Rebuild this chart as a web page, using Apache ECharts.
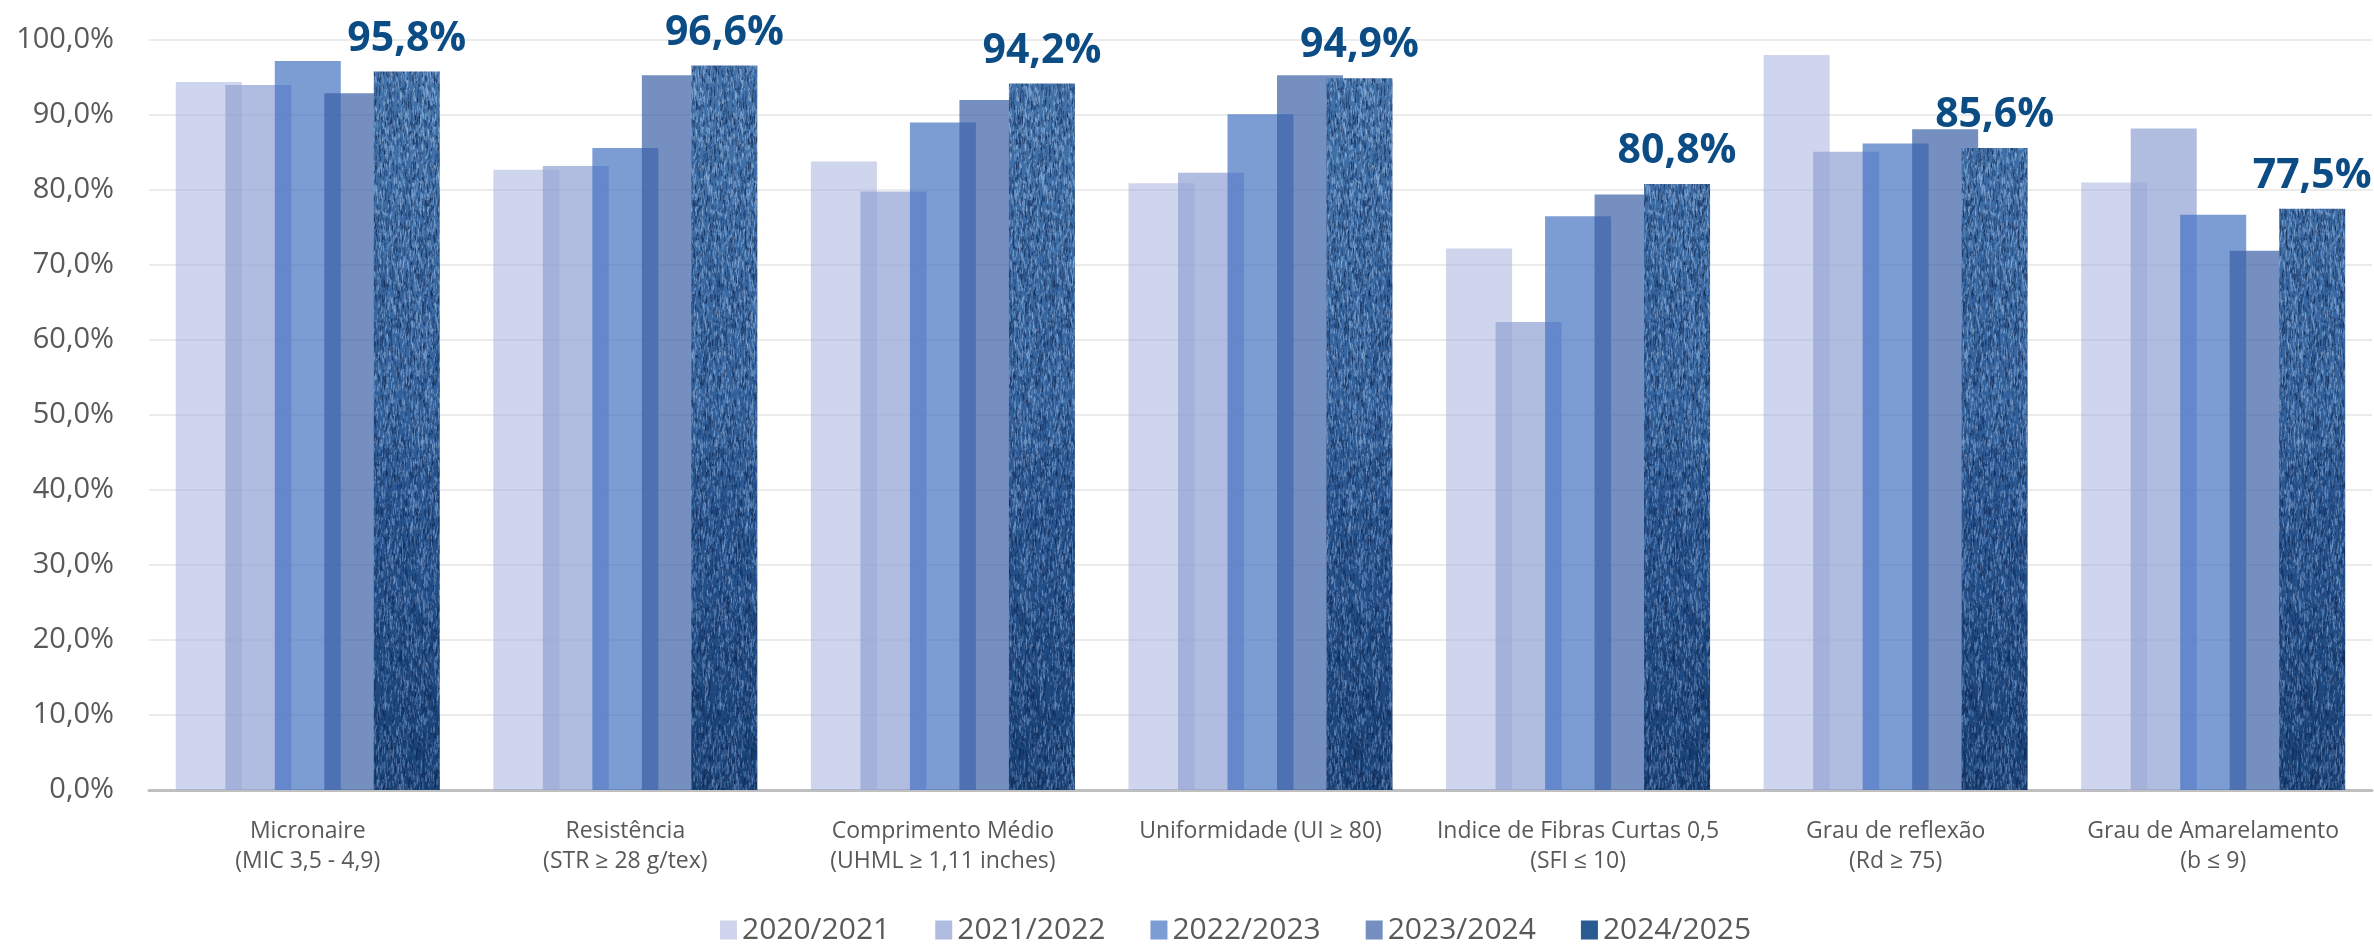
<!DOCTYPE html>
<html>
<head>
<meta charset="utf-8">
<script src="https://cdn.jsdelivr.net/npm/echarts@6/dist/echarts.min.js"></script>
<style>
html,body{margin:0;padding:0;background:#fff;}
#chart{width:2374px;height:945px;}
</style>
</head>
<body>
<div id="chart"></div>
<script>
const categories = [
  'Micronaire\n(MIC 3,5 - 4,9)',
  'Resistência\n(STR ≥ 28 g/tex)',
  'Comprimento Médio\n(UHML ≥ 1,11 inches)',
  'Uniformidade (UI ≥ 80)',
  'Indice de Fibras Curtas 0,5\n(SFI ≤ 10)',
  'Grau de reflexão\n(Rd ≥ 75)',
  'Grau de Amarelamento\n(b ≤ 9)'
];
const seasons = ['2020/2021', '2021/2022', '2022/2023', '2023/2024', '2024/2025'];
const s2020 = [94.4, 82.7, 83.8, 80.9, 72.2, 98.0, 81.0];
const s2021 = [94.0, 83.2, 79.8, 82.3, 62.4, 85.1, 88.2];
const s2022 = [97.2, 85.6, 89.0, 90.1, 76.5, 86.2, 76.7];
const s2023 = [92.9, 95.3, 92.0, 95.3, 79.4, 88.1, 71.9];
const s2024 = [95.8, 96.6, 94.2, 94.9, 80.8, 85.6, 77.5];
const yTicks = [0, 10, 20, 30, 40, 50, 60, 70, 80, 90, 100];

// denim-like texture (decorative only)
function makeDenim() {
  const c = document.createElement('canvas');
  c.width = 67; c.height = 945;
  const g = c.getContext('2d');
  const grad = g.createLinearGradient(0, 0, 0, 945);
  grad.addColorStop(0, '#4676ad');
  grad.addColorStop(0.35, '#3766a0');
  grad.addColorStop(0.6, '#24508a');
  grad.addColorStop(0.8, '#1b4478');
  grad.addColorStop(1, '#163b6b');
  g.fillStyle = grad; g.fillRect(0, 0, 67, 945);
  let seed = 12345;
  const rnd = () => { seed = (seed * 1103515245 + 12345) & 0x7fffffff; return seed / 0x7fffffff; };
  for (let i = 0; i < 9000; i++) {
    const x = rnd() * 67, y = rnd() * 945, len = 2 + rnd() * 6;
    const t = rnd();
    const depth = y / 945;
    if (t < 0.48) g.strokeStyle = 'rgba(' + Math.round(160 - 60 * depth) + ',' + Math.round(195 - 60 * depth) + ',' + Math.round(230 - 40 * depth) + ',0.55)';
    else g.strokeStyle = 'rgba(10,32,72,0.45)';
    g.lineWidth = 1;
    g.beginPath(); g.moveTo(x, y); g.lineTo(x + (rnd() - 0.5) * 1.5, y + len); g.stroke();
  }
  return c;
}
const denim = makeDenim();

const colors = [
  'rgba(160,172,218,0.5)',
  'rgba(145,163,212,0.72)',
  'rgba(69,114,194,0.7)',
  'rgba(58,96,165,0.7)'
];
const seriesData = [s2020, s2021, s2022, s2023, s2024];

const fmt = v => v.toFixed(1).replace('.', ',') + '%';

const series = seriesData.map((d, i) => {
  const s = {
    name: seasons[i],
    type: 'bar',
    data: d,
    barWidth: 66,
    barGap: '-25%',
    itemStyle: { color: i < 4 ? colors[i] : { image: denim, repeat: 'repeat' } }
  };
  if (i === 4) {
    s.label = {
      show: true, position: 'top', distance: 12,
      formatter: p => fmt(p.value),
      fontFamily: 'Open Sans', fontWeight: 'bold', fontSize: 41, color: '#0b4c85'
    };
  }
  return s;
});

const chart = echarts.init(document.getElementById('chart'));
chart.setOption({
  animation: false,
  backgroundColor: '#fff',
  grid: { left: 149, right: 2, top: 40, bottom: 155, containLabel: false },
  legend: {
    left: 715, top: 910,
    itemWidth: 17, itemHeight: 19, itemGap: 45,
    icon: 'rect',
    textStyle: { fontFamily: 'Open Sans', fontSize: 30, color: '#595959' },
    data: seasons.map((n, i) => i < 4 ? { name: n } : { name: n, itemStyle: { color: '#2a5a92' } })
  },
  xAxis: {
    type: 'category',
    data: categories,
    axisTick: { show: false },
    axisLine: { lineStyle: { color: '#bfbfbf', width: 3 } },
    axisLabel: { interval: 0, fontFamily: 'Open Sans', fontSize: 23, color: '#595959', lineHeight: 30, margin: 26 }
  },
  yAxis: {
    type: 'value', min: yTicks[0], max: yTicks[yTicks.length - 1], interval: 10,
    axisLine: { show: false }, axisTick: { show: false },
    splitLine: { lineStyle: { color: '#ebebeb', width: 2 } },
    axisLabel: { formatter: v => fmt(v), fontFamily: 'Open Sans', fontSize: 29, color: '#595959', margin: 35 }
  },
  series: series
});
</script>
</body>
</html>
